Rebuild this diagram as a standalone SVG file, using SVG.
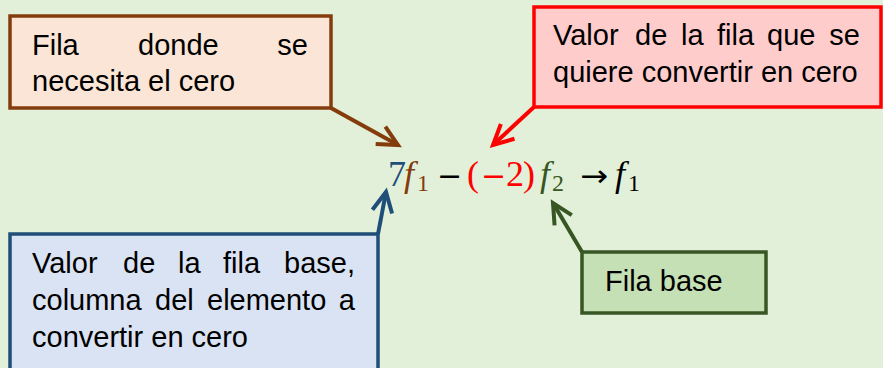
<svg xmlns="http://www.w3.org/2000/svg" width="883" height="368" viewBox="0 0 883 368">
<defs>
<style>
.t{font-family:"Liberation Sans",Arial,sans-serif;font-size:29px;fill:#000}
.m{font-family:"Liberation Serif","Times New Roman",serif;font-size:36px}
.o{font-family:"DejaVu Sans",sans-serif;font-size:30px}
.i{font-style:italic}
.s{font-size:24px}
.box{stroke-width:3.5}
.con{fill:none;stroke-width:4}
</style>
<marker id="ab" viewBox="-24 -14 28 28" markerUnits="userSpaceOnUse" markerWidth="28" markerHeight="28" refX="0" refY="0" orient="auto" overflow="visible"><path d="M-20,-10 L0,0 L-20,10" fill="none" stroke="#843C0C" stroke-width="4"/></marker>
<marker id="ar" viewBox="-24 -14 28 28" markerUnits="userSpaceOnUse" markerWidth="28" markerHeight="28" refX="0" refY="0" orient="auto" overflow="visible"><path d="M-20,-10 L0,0 L-20,10" fill="none" stroke="#FF0000" stroke-width="4"/></marker>
<marker id="abl" viewBox="-24 -14 28 28" markerUnits="userSpaceOnUse" markerWidth="28" markerHeight="28" refX="0" refY="0" orient="auto" overflow="visible"><path d="M-20,-10 L0,0 L-20,10" fill="none" stroke="#1F4E79" stroke-width="4"/></marker>
<marker id="ag" viewBox="-24 -14 28 28" markerUnits="userSpaceOnUse" markerWidth="28" markerHeight="28" refX="0" refY="0" orient="auto" overflow="visible"><path d="M-20,-10 L0,0 L-20,10" fill="none" stroke="#375623" stroke-width="4"/></marker>
</defs>
<rect x="0" y="0" width="883" height="368" fill="#E2F0D9"/>

<g id="connectors">
<line class="con" x1="331" y1="108" x2="398" y2="145" stroke="#843C0C" marker-end="url(#ab)"/>
<line class="con" x1="534" y1="107" x2="493" y2="145" stroke="#FF0000" marker-end="url(#ar)"/>
<line class="con" x1="378" y1="234" x2="386" y2="192" stroke="#1F4E79" marker-end="url(#abl)"/>
<line class="con" x1="582" y1="252" x2="553" y2="203" stroke="#375623" marker-end="url(#ag)"/>
</g>

<g id="node-fila-donde">
<rect class="box" x="10" y="16" width="321" height="92" fill="#FBE5D6" stroke="#843C0C"/>
<text class="t" x="32" y="55">Fila</text>
<text class="t" x="138" y="55">donde</text>
<text class="t" x="308" y="55" text-anchor="end">se</text>
<text class="t" x="32" y="91">necesita el cero</text>
</g>

<g id="node-valor-fila">
<rect class="box" x="534" y="7" width="347" height="100" fill="#FFCCCC" stroke="#FF0000"/>
<text class="t" x="553" y="45">Valor</text>
<text class="t" x="635" y="45">de</text>
<text class="t" x="681" y="45">la</text>
<text class="t" x="717" y="45">fila</text>
<text class="t" x="767" y="45">que</text>
<text class="t" x="860" y="45" text-anchor="end">se</text>
<text class="t" x="553" y="82">quiere convertir en cero</text>
</g>

<g id="node-valor-base">
<rect class="box" x="10" y="234" width="368" height="140" fill="#DAE3F3" stroke="#1F4E79"/>
<text class="t" x="32" y="273">Valor</text>
<text class="t" x="123" y="273">de</text>
<text class="t" x="178" y="273">la</text>
<text class="t" x="223" y="273">fila</text>
<text class="t" x="355" y="273" text-anchor="end">base,</text>
<text class="t" x="32" y="310">columna</text>
<text class="t" x="155" y="310">del</text>
<text class="t" x="207" y="310">elemento</text>
<text class="t" x="355" y="310" text-anchor="end">a</text>
<text class="t" x="32" y="347">convertir en cero</text>
</g>

<g id="node-fila-base">
<rect class="box" x="582" y="252" width="184" height="61" fill="#C5E0B4" stroke="#375623"/>
<text class="t" x="605" y="291">Fila base</text>
</g>

<g id="formula">
<text class="m" x="388" y="186" fill="#1F4E79">7</text>
<text class="m i" x="404" y="186" fill="#843C0C">f</text>
<text class="m s" x="417" y="191" fill="#843C0C">1</text>
<text class="o" x="437" y="186" fill="#000">−</text>
<text class="m" x="467" y="186" fill="#FF0000">(</text>
<text class="o" x="481" y="186" fill="#FF0000">−</text>
<text class="m" x="506" y="186" fill="#FF0000">2</text>
<text class="m" x="523" y="186" fill="#FF0000">)</text>
<text class="m i" x="540" y="186" fill="#375623">f</text>
<text class="m s" x="552" y="191" fill="#375623">2</text>
<text class="o" x="580" y="186" fill="#000" textLength="28" lengthAdjust="spacingAndGlyphs">→</text>
<text class="m i" x="615" y="186" fill="#000">f</text>
<text class="m s" x="628" y="191" fill="#000">1</text>
</g>
</svg>
